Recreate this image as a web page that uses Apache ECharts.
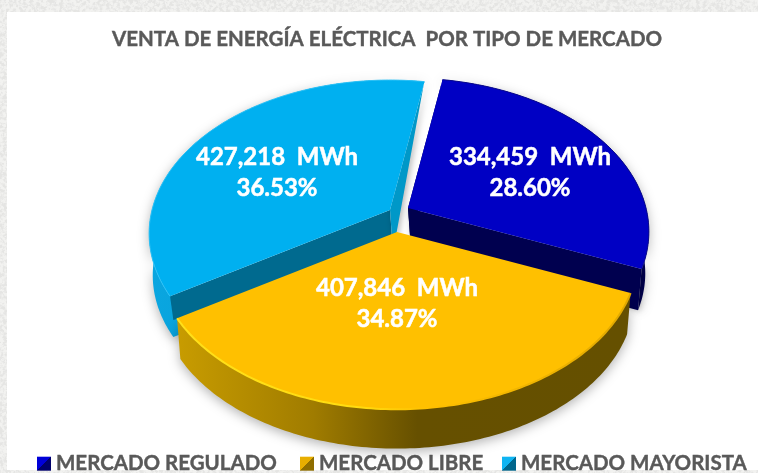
<!DOCTYPE html>
<html>
<head>
<meta charset="utf-8">
<title>Venta de energía eléctrica</title>
<script src="https://cdn.jsdelivr.net/npm/echarts@6/dist/echarts.min.js"></script>
<style>
    html, body { margin: 0; padding: 0; width: 758px; height: 473px; overflow: hidden; background: #e4e4e2; }
    #texture { position: absolute; left: 0; top: 0; width: 758px; height: 473px; }
    #panel { position: absolute; left: 7px; top: 12px; width: 751px; height: 458px; background: #fff; }
    #chart { position: absolute; left: 0; top: 0; width: 758px; height: 473px; }
</style>
</head>
<body>
<svg id="texture" xmlns="http://www.w3.org/2000/svg">
    <filter id="grain"><feTurbulence type="fractalNoise" baseFrequency="0.3" numOctaves="3" seed="4"/><feColorMatrix values="0 0 0 0 0.78  0 0 0 0 0.78  0 0 0 0 0.77  3 3 0 0 -2.6"/></filter>
    <rect width="758" height="473" fill="#f2f2f0"/>
    <rect width="758" height="473" filter="url(#grain)"/>
</svg>
<div id="panel"></div>
<div id="chart"></div>
<script>
const chartTitle = 'VENTA DE ENERGÍA ELÉCTRICA  POR TIPO DE MERCADO';
const markets = ['MERCADO REGULADO', 'MERCADO LIBRE', 'MERCADO MAYORISTA'];
const energyMWh = [334459, 407846, 427218];

const fontName = 'Lato';
const firstAngle = 9.6; // grados, horario desde atras

// centro de cada rebanada separada
const apexes = [[408, 208], [397, 232], [390, 210]];
const labelPos = [[530, 173], [397, 304], [277, 173]];
const legendLeft = [37, 300, 502];
const topColors = ['#0000c4', '#ffc000', '#00b0f0'];
const rimColors = ['#0a0a8c', null, '#2cc1f6'];
const endWallColors = ['#00004f', null, '#0098c8'];
const startWallColors = ['#000052', null, '#006a8f'];
const startWallDepth = [42, 0, 25];
const sideStops = [
    [[0, '#00006e'], [1, '#000050']],
    [[0, '#c89c00'], [0.3, '#a07c00'], [0.45, '#7a5f00'], [0.53, '#665000'], [1, '#655000']],
    [[0, '#0aa6e0'], [1, '#0096cc']]
];
const swatchColors = [['#0000d8', '#00006c'], ['#e8ae00', '#8f6e00'], ['#0fb4f2', '#00668c']];
const seriesZ = [3, 4, 2];

// perspectiva del plato
const radius = 238;
const squash = 0.63;
const persp = 0.154;
const wallDepth = 42;
const wallShrink = 0.985;

const total = energyMWh.reduce((a, b) => a + b, 0);

function project(apex, deg) {
    let t = deg * Math.PI / 180;
    let u = Math.sin(t), v = -Math.cos(t);
    let w = 1 - persp * v;
    return [apex[0] + radius * u / w, apex[1] + radius * squash * v / w, v];
}

function dropped(apex, p, depth) {
    // atras la pared casi desaparece
    let d = depth * Math.max(0, Math.min(1, (p[2] + 0.97) / 0.5));
    return [apex[0] + (p[0] - apex[0]) * wallShrink, apex[1] + d + (p[1] - apex[1]) * wallShrink];
}

function arc(apex, a0, a1) {
    let pts = [];
    let n = Math.ceil(Math.abs(a1 - a0));
    for (let i = 0; i <= n; i++) {
        pts.push(project(apex, a0 + (a1 - a0) * i / n));
    }
    return pts;
}

function sliceAngles(idx) {
    let a = firstAngle;
    for (let i = 0; i < idx; i++) a += energyMWh[i] / total * 360;
    return [a, a + energyMWh[idx] / total * 360];
}

function xy(p) { return [p[0], p[1]]; }

function renderSlice(idx) {
    return function (params, api) {
        let value = api.value(0);
        let angles = sliceAngles(idx);
        let apex = apexes[idx];
        let rim = arc(apex, angles[0], angles[1]);
        let bottom = rim.map(p => dropped(apex, p, wallDepth)).reverse();
        let apexLow = [apex[0] + 3, apex[1] + wallDepth];
        let first = rim[0], last = rim[rim.length - 1];
        let sidePoints = rim.map(xy).concat(bottom);
        if (startWallColors[idx] && startWallDepth[idx] < wallDepth) sidePoints.push(apexLow);
        let children = [
            // pared exterior
            {
                type: 'polygon',
                shape: { points: sidePoints },
                style: {
                    fill: new echarts.graphic.LinearGradient(0, 0, 1, 0,
                        sideStops[idx].map(s => ({ offset: s[0], color: s[1] }))),
                    shadowColor: 'rgba(0,0,0,0.3)', shadowBlur: 12, shadowOffsetY: 3
                }
            }
        ];
        // paredes interiores
        if (startWallColors[idx]) {
            children.push({
                type: 'polygon',
                shape: { points: [xy(first), xy(apex), apexLow, dropped(apex, first, startWallDepth[idx])] },
                style: { fill: startWallColors[idx] }
            });
        }
        if (endWallColors[idx]) {
            children.push({
                type: 'polygon',
                shape: { points: [xy(last), xy(apex), apexLow, dropped(apex, last, wallDepth)] },
                style: { fill: endWallColors[idx], shadowColor: 'rgba(0,0,0,0.3)', shadowBlur: 6, shadowOffsetX: 2 }
            });
        }
        // tapa
        children.push({
            type: 'polygon',
            shape: { points: [xy(apex)].concat(rim.map(xy)) },
            style: { fill: topColors[idx] }
        });
        children.push({
            type: 'polyline',
            shape: { points: rim.map(xy) },
            style: {
                fill: null,
                lineWidth: rimColors[idx] ? 1 : 2,
                stroke: rimColors[idx] || new echarts.graphic.LinearGradient(0, 0, 1, 0, [
                    { offset: 0, color: '#ffe01a' },
                    { offset: 0.4, color: '#ffdc10' },
                    { offset: 0.55, color: '#ffc000' },
                    { offset: 1, color: '#e0a800' }
                ])
            }
        });
        children.push({
            type: 'text',
            x: labelPos[idx][0],
            y: labelPos[idx][1],
            style: {
                text: value.toLocaleString('en-US') + '  MWh\n' + (value / total * 100).toFixed(2) + '%',
                fill: '#fff',
                stroke: '#fff',
                lineWidth: 0.5,
                font: 'bold 24px ' + fontName,
                lineHeight: 31,
                align: 'center',
                verticalAlign: 'middle'
            }
        });
        return { type: 'group', children: children };
    };
}

const chart = echarts.init(document.getElementById('chart'));
chart.setOption({
    animation: false,
    backgroundColor: 'transparent',
    title: {
        text: chartTitle,
        left: 107,
        top: 24,
        textStyle: {
            color: '#595959', fontFamily: fontName, fontWeight: 'bold', fontSize: 20.5,
            textBorderColor: '#595959', textBorderWidth: 0.4
        }
    },
    legend: markets.map((name, i) => ({
        left: legendLeft[i],
        top: 453,
        padding: 0,
        itemWidth: 14,
        itemHeight: 14,
        icon: 'rect',
        textStyle: {
            color: '#595959', fontFamily: fontName, fontWeight: 'bold', fontSize: 20.5,
            textBorderColor: '#595959', textBorderWidth: 0.4
        },
        data: [{
            name: name,
            itemStyle: {
                color: new echarts.graphic.LinearGradient(0, 0, 1, 1, [
                    { offset: 0, color: swatchColors[i][0] },
                    { offset: 0.5, color: swatchColors[i][0] },
                    { offset: 0.5, color: swatchColors[i][1] },
                    { offset: 1, color: swatchColors[i][1] }
                ])
            }
        }]
    })),
    series: markets.map((name, i) => ({
        name: name,
        type: 'custom',
        coordinateSystem: 'none',
        z: seriesZ[i],
        silent: true,
        itemStyle: { color: topColors[i] },
        renderItem: renderSlice(i),
        data: [[energyMWh[i]]]
    }))
});
window.addEventListener('resize', () => { chart.resize(); });
</script>
</body>
</html>
